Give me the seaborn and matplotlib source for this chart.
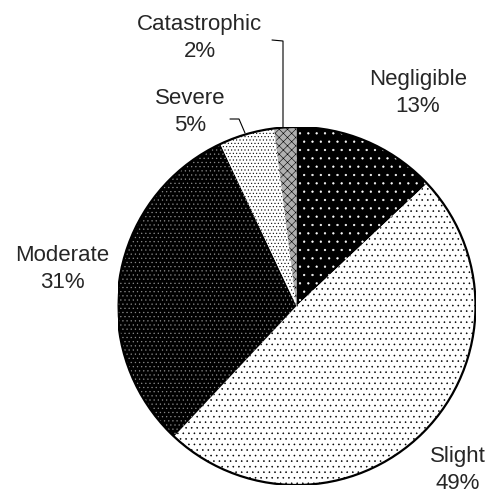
import numpy as np
import matplotlib
matplotlib.use("Agg")
import matplotlib.pyplot as plt
import seaborn as sns

categories = ['Negligible', 'Slight', 'Moderate', 'Severe', 'Catastrophic']
shares = [13, 49, 31, 5, 2]

fills = ['black', 'white', 'black', 'white', '#b0b0b0']
dot_colors = ['white', 'black', '#8a8a8a', 'black', 'black']
hatches = ['..', '...', '....', '.....', 'xxxx']

sns.set_theme(style='white')
plt.rcParams['font.family'] = ['Liberation Sans', 'DejaVu Sans']
plt.rcParams['hatch.linewidth'] = 0.4

W, H = 496, 498
fig = plt.figure(figsize=(W / 100, H / 100), dpi=100)
cx, cy, r = 296.5, 306, 179
ax = fig.add_axes([(cx - r) / W, (H - cy - r) / H, 2 * r / W, 2 * r / H])

wedges, _ = ax.pie(shares, startangle=90, counterclock=False, radius=1,
                   colors=fills, wedgeprops=dict(linewidth=0))
for w, hc, ht in zip(wedges, dot_colors, hatches):
    w.set_edgecolor(hc)
    w.set_hatch(ht)
    w.set_linewidth(0)
ax.add_patch(plt.Circle((0, 0), 1, fill=False, lw=1.6, color='black'))
ax.set_xlim(-1, 1)
ax.set_ylim(-1, 1)
ax.set_aspect('auto')
ax.axis('off')


def px(x, y):
    return (x - cx) / r, (cy - y) / r


label_pos = [(418, 93), (458, 470), (62, 269), (190, 112), (200, 38)]
for name, v, (x, y) in zip(categories, shares, label_pos):
    ax.text(*px(x, y), f'{name}\n{v}%', ha='center', va='center',
            fontsize=16, linespacing=1.35, clip_on=False)

# leader lines for the small slices
for pts in ([(272, 40), (283, 41), (283, 127)],
            [(230, 119), (239, 119), (245, 133)]):
    xs, ys = zip(*[px(x, y) for x, y in pts])
    ax.plot(xs, ys, color='black', lw=0.8, clip_on=False)

fig.savefig('out.png', dpi=100)
